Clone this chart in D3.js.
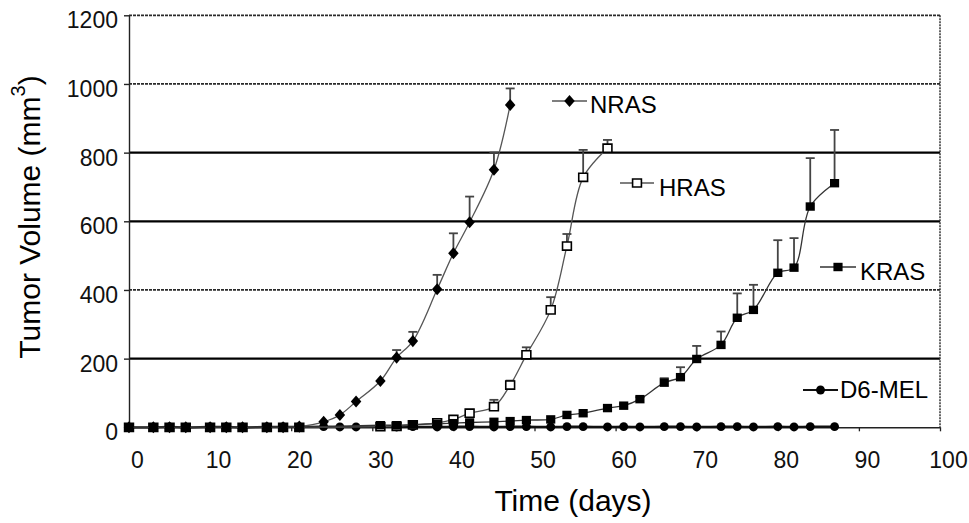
<!DOCTYPE html>
<html>
<head>
<meta charset="utf-8">
<script src="https://cdn.jsdelivr.net/npm/d3@7"></script>
<style>
  html, body { margin: 0; padding: 0; background: #fff; }
  svg { display: block; font-family: "Liberation Sans", Arial, sans-serif; }
</style>
</head>
<body>
<svg id="chart" width="969" height="523"></svg>
<script>
// Tumor growth of melanoma lines (mean volume, mm^3, with upper SEM bars)
const xTicks = [0, 10, 20, 30, 40, 50, 60, 70, 80, 90, 100];
const yTicks = [0, 200, 400, 600, 800, 1000, 1200];

const seriesNames = ["NRAS", "HRAS", "KRAS", "D6-MEL"];

const nrasDays   = [0, 3, 5, 7, 10, 12, 14, 17, 19, 21, 24, 26, 28, 31, 33, 35, 38, 40, 42, 45, 47];
const nrasVolume = [0, 0, 0, 0, 0, 0, 0, 0, 0, 2, 16, 36, 75, 135, 203, 251, 402, 507, 597, 750, 939];
const nrasSem    = [0, 0, 0, 0, 0, 0, 0, 0, 0, 0, 0, 0, 0, 0, 22, 27, 42, 58, 75, 50, 48];

const hrasDays   = [0, 3, 5, 7, 10, 12, 14, 17, 19, 21, 31, 33, 35, 38, 40, 42, 45, 47, 49, 52, 54, 56, 59];
const hrasVolume = [0, 0, 0, 0, 0, 0, 0, 0, 0, 0, 2, 3, 7, 13, 23, 41, 60, 123, 211, 342, 528, 728, 813];
const hrasSem    = [0, 0, 0, 0, 0, 0, 0, 0, 0, 0, 0, 0, 3, 5, 6, 10, 20, 13, 22, 37, 35, 80, 24];

const krasDays   = [0, 3, 5, 7, 10, 12, 14, 17, 19, 21, 31, 33, 35, 38, 40, 42, 45, 47, 49, 52, 54, 56,
                    59, 61, 63, 66, 68, 70, 73, 75, 77, 80, 82, 84, 87];
const krasVolume = [0, 0, 0, 0, 0, 0, 0, 0, 0, 0, 6, 6, 8, 10, 12, 14, 16, 18, 21, 23, 36, 41,
                    56, 63, 82, 130, 146, 199, 240, 319, 342, 450, 465, 643, 711];
const krasSem    = [0, 0, 0, 0, 0, 0, 0, 0, 0, 0, 0, 0, 0, 0, 0, 0, 0, 0, 0, 0, 0, 0,
                    8, 5, 6, 13, 29, 38, 39, 71, 73, 95, 86, 141, 155];

const melDays    = [0, 3, 5, 7, 10, 12, 14, 17, 19, 21, 24, 26, 28, 31, 33, 35, 38, 40, 42, 45, 47, 49, 52,
                    54, 56, 59, 61, 63, 66, 68, 70, 73, 75, 77, 80, 82, 84, 87];
const melVolume  = [0, 0, 1, 0, 1, 1, 0, 1, 1, 1, 2, 1, 1, 2, 1, 2, 1, 2, 2, 1, 2, 2, 1,
                    2, 2, 1, 2, 1, 2, 2, 1, 2, 2, 1, 2, 1, 2, 2];
const melSem     = melDays.map(() => 0);

// ---- layout ----
const svg = d3.select("#chart");
const plot = { left: 129, right: 940, top: 15.3, bottom: 427.3 };

const x = d3.scaleLinear().domain([0, 100]).range([plot.left, plot.right]);
const y = d3.scaleLinear().domain([0, 1200]).range([plot.bottom, plot.top]);

const rows = (days, vol, sem) => days.map((d, i) => ({ day: d, v: vol[i], e: sem[i] }));

// custom diamond and square markers
const diamond = { draw(ctx, s) { const r = Math.sqrt(s) / 2; ctx.moveTo(0, -r * 1.15); ctx.lineTo(r, 0); ctx.lineTo(0, r * 1.15); ctx.lineTo(-r, 0); ctx.closePath(); } };
const square = { draw(ctx, s) { const w = Math.sqrt(s) / 2, h = w * 0.92; ctx.rect(-w, -h, 2 * w, 2 * h); } };

const series = [
  { name: seriesNames[3], data: rows(melDays, melVolume, melSem), symbol: d3.symbolCircle, size: 62, fill: "#000", stroke: "none", line: "#111", lw: 2.2 },
  { name: seriesNames[0], data: rows(nrasDays, nrasVolume, nrasSem), symbol: diamond, size: 110, fill: "#000", stroke: "none", line: "#555", lw: 1.3 },
  { name: seriesNames[1], data: rows(hrasDays, hrasVolume, hrasSem), symbol: square, size: 78, fill: "#fff", stroke: "#000", line: "#555", lw: 1.3 },
  { name: seriesNames[2], data: rows(krasDays, krasVolume, krasSem), symbol: square, size: 84, fill: "#000", stroke: "none", line: "#333", lw: 1.3 }
];

// series label placement (line stub, marker, text)
const legendLayout = {
  "NRAS":   { x1: 552, x2: 587, y: 101, tx: 590, ty: 113 },
  "HRAS":   { x1: 620, x2: 654, y: 183, tx: 659, ty: 196 },
  "KRAS":   { x1: 820, x2: 856, y: 267, tx: 860, ty: 280 },
  "D6-MEL": { x1: 803, x2: 838, y: 390, tx: 840, ty: 398 }
};

// ---- gridlines ----
const solidGrid = new Set([200, 600, 800]);
svg.append("g").selectAll("line").data(yTicks.filter(t => t > 0)).join("line")
  .attr("x1", plot.left).attr("x2", plot.right)
  .attr("y1", d => y(d)).attr("y2", d => y(d))
  .attr("stroke", d => solidGrid.has(d) ? "#000" : "#2a2a2a")
  .attr("stroke-width", d => solidGrid.has(d) ? 2.2 : 1.8)
  .attr("stroke-dasharray", d => solidGrid.has(d) ? null : "3,1");

// right border
svg.append("line").attr("x1", plot.right).attr("x2", plot.right)
  .attr("y1", plot.top).attr("y2", plot.bottom)
  .attr("stroke", "#333").attr("stroke-width", 1.5).attr("stroke-dasharray", "2,1");

// ---- axes ----
const yAxis = svg.append("g").attr("transform", `translate(${plot.left},0)`)
  .call(d3.axisLeft(y).tickValues(yTicks).tickFormat(d3.format("d")).tickSize(5).tickPadding(6).tickSizeOuter(0));
yAxis.select(".domain").attr("stroke", "#222").attr("stroke-width", 1.4);
yAxis.selectAll(".tick line").attr("stroke", "#222").attr("stroke-width", 1.4);
yAxis.selectAll(".tick text").attr("font-size", 23).attr("fill", "#111").attr("dy", "0.55em");

const xAxis = svg.append("g").attr("transform", `translate(0,${plot.bottom})`)
  .call(d3.axisBottom(x).tickValues(xTicks).tickFormat(d3.format("d")).tickSize(4).tickPadding(20).tickSizeOuter(0));
xAxis.select(".domain").attr("stroke", "#222").attr("stroke-width", 1.6);
xAxis.selectAll(".tick line").attr("stroke", "#222").attr("stroke-width", 1.3);
xAxis.selectAll(".tick text").attr("font-size", 23).attr("fill", "#111").attr("dx", 8);

// axis titles
svg.append("text").attr("x", 573).attr("y", 511).attr("text-anchor", "middle")
  .attr("font-size", 30).attr("fill", "#000").text("Time (days)");

const yt = svg.append("text").attr("transform", "translate(40,217) rotate(-90)")
  .attr("text-anchor", "middle").attr("font-size", 30).attr("fill", "#000");
yt.append("tspan").text("Tumor Volume (mm");
yt.append("tspan").attr("font-size", 20).attr("dy", "-0.75em").text("3");
yt.append("tspan").attr("dy", "0.5em").text(")");

// ---- series ----
const lineGen = d3.line().x(d => x(d.day)).y(d => y(d.v)).curve(d3.curveCatmullRom.alpha(0.5));

series.forEach(s => {
  const g = svg.append("g");
  g.append("path").datum(s.data).attr("d", lineGen)
    .attr("fill", "none").attr("stroke", s.line).attr("stroke-width", s.lw);

  // upper error bars
  const eb = g.append("g").selectAll("g").data(s.data.filter(d => d.e > 0)).join("g");
  eb.append("line").attr("x1", d => x(d.day)).attr("x2", d => x(d.day))
    .attr("y1", d => y(d.v)).attr("y2", d => y(d.v + d.e))
    .attr("stroke", "#444").attr("stroke-width", 1.8);
  eb.append("line").attr("x1", d => x(d.day) - 4.5).attr("x2", d => x(d.day) + 4.5)
    .attr("y1", d => y(d.v + d.e)).attr("y2", d => y(d.v + d.e))
    .attr("stroke", "#444").attr("stroke-width", 1.8);

  g.append("g").selectAll("path").data(s.data).join("path")
    .attr("transform", d => `translate(${x(d.day)},${y(d.v)})`)
    .attr("d", d3.symbol(s.symbol, s.size))
    .attr("fill", s.fill).attr("stroke", s.stroke).attr("stroke-width", 1.6);
});

// ---- series labels ----
series.forEach(s => {
  const L = legendLayout[s.name];
  const g = svg.append("g");
  g.append("line").attr("x1", L.x1).attr("x2", L.x2).attr("y1", L.y).attr("y2", L.y)
    .attr("stroke", s.line).attr("stroke-width", s.lw);
  g.append("path").attr("transform", `translate(${(L.x1 + L.x2) / 2},${L.y})`)
    .attr("d", d3.symbol(s.symbol, s.size))
    .attr("fill", s.fill).attr("stroke", s.stroke).attr("stroke-width", 1.6);
  g.append("text").attr("x", L.tx).attr("y", L.ty).attr("font-size", 24).attr("fill", "#000").text(s.name);
});
</script>
</body>
</html>
